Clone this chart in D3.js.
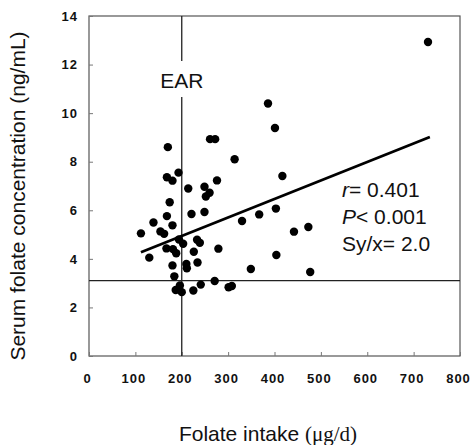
<!DOCTYPE html>
<html>
<head>
<meta charset="utf-8">
<script src="https://cdn.jsdelivr.net/npm/d3@7"></script>
<style>
  body { margin: 0; background: #fff; }
</style>
</head>
<body>
<script>
// folate intake (ug/d) and serum folate (ng/mL)
const intake = [731, 386, 401, 261, 272, 170, 314, 193, 417, 168, 180, 276, 214, 249, 260, 252,
  174, 403, 221, 249, 367, 168, 330, 139, 180, 473, 442, 112, 154, 162, 194, 233, 239, 203,
  167, 181, 188, 226, 279, 130, 404, 180, 210, 211, 234, 349, 477, 184, 196, 187, 200, 225,
  241, 271, 301, 308]
const serum = [12.93, 10.40, 9.39, 8.93, 8.93, 8.60, 8.10, 7.55, 7.41, 7.36, 7.22, 7.23, 6.90, 6.97, 6.72, 6.57,
  6.33, 6.07, 5.85, 5.93, 5.83, 5.76, 5.56, 5.50, 5.38, 5.31, 5.12, 5.05, 5.13, 5.03, 4.80, 4.79, 4.66, 4.62,
  4.43, 4.40, 4.23, 4.29, 4.42, 4.05, 4.16, 3.73, 3.79, 3.61, 3.85, 3.58, 3.46, 3.28, 2.90, 2.72, 2.63, 2.70,
  2.94, 3.09, 2.83, 2.88]
const xTicks = [0, 100, 200, 300, 400, 500, 600, 700, 800]
const yTicks = [0, 2, 4, 6, 8, 10, 12, 14]
const fitX = [112, 735]          // regression line ends
const fitY = [4.27, 9.02]
const earX = 200                 // EAR reference
const refY = 3.1                 // horizontal cut-off
const stats = ["r= 0.401", "P< 0.001", "Sy/x= 2.0"]

const width = 472, height = 445
const mLeft = 89, mRight = 460, mTop = 16, mBottom = 356

const svg = d3.select("body").append("svg")
    .attr("width", width)
    .attr("height", height)
    .attr("xmlns", "http://www.w3.org/2000/svg")

const x = d3.scaleLinear().domain([0, 800]).range([mLeft, mRight])
const y = d3.scaleLinear().domain([0, 14]).range([mBottom, mTop])

// frame
svg.append("rect")
    .attr("x", mLeft).attr("y", mTop)
    .attr("width", mRight - mLeft).attr("height", mBottom - mTop)
    .attr("fill", "none").attr("stroke", "#555").attr("stroke-width", 1.2)

// axes, ticks pointing inward
const xAxis = svg.append("g")
    .attr("transform", `translate(0,${mBottom})`)
    .call(d3.axisBottom(x).tickValues(xTicks).tickSize(-4).tickPadding(18))
const yAxis = svg.append("g")
    .attr("transform", `translate(${mLeft},0)`)
    .call(d3.axisLeft(y).tickValues(yTicks).tickSize(-4).tickPadding(11))

;[xAxis, yAxis].forEach(g => {
  g.select(".domain").remove()
  g.selectAll(".tick line").attr("stroke", "#777")
  g.selectAll(".tick text")
      .attr("fill", "#111")
      .style("font", "bold 13px 'Liberation Sans', Arial, sans-serif")
      .style("letter-spacing", "1px")
})
xAxis.selectAll(".tick text").attr("dx", -2)

// reference lines
svg.append("line")
    .attr("x1", x(earX)).attr("x2", x(earX))
    .attr("y1", mTop).attr("y2", mBottom)
    .attr("stroke", "#222").attr("stroke-width", 1.3)
svg.append("line")
    .attr("x1", mLeft).attr("x2", mRight)
    .attr("y1", y(refY)).attr("y2", y(refY))
    .attr("stroke", "#222").attr("stroke-width", 1.3)

// EAR label on a white patch over the vertical line
svg.append("rect")
    .attr("x", x(earX) - 25).attr("y", 61)
    .attr("width", 50).attr("height", 36)
    .attr("fill", "#fff")
svg.append("text")
    .attr("x", x(earX)).attr("y", 88)
    .attr("text-anchor", "middle")
    .style("font", "21px 'Liberation Sans', Arial, sans-serif")
    .attr("fill", "#111")
    .text("EAR")

// points
svg.append("g")
  .selectAll("circle")
  .data(intake.map((v, i) => [v, serum[i]]))
  .join("circle")
    .attr("cx", d => x(d[0]))
    .attr("cy", d => y(d[1]))
    .attr("r", 4.2)
    .attr("fill", "#000")

// regression line
svg.append("path")
    .datum(fitX.map((v, i) => [v, fitY[i]]))
    .attr("d", d3.line().x(d => x(d[0])).y(d => y(d[1])))
    .attr("fill", "none")
    .attr("stroke", "#000")
    .attr("stroke-width", 2.8)

// statistics
const st = svg.append("text")
    .attr("x", 342)
    .style("font", "21px 'Liberation Sans', Arial, sans-serif")
    .attr("fill", "#111")
stats.forEach((s, i) => {
  const t = st.append("tspan").attr("x", 342).attr("y", 197 + i * 27)
  const m = s.match(/^(r|P)(.*)$/)
  if (m) {
    t.append("tspan").style("font-style", "italic").text(m[1])
    t.append("tspan").text(m[2])
  } else {
    t.text(s)
  }
})

// axis titles
svg.append("text")
    .attr("transform", `translate(25,${(mTop + mBottom) / 2 + 10}) rotate(-90)`)
    .attr("text-anchor", "middle")
    .style("font", "21px 'Liberation Sans', Arial, sans-serif")
    .attr("fill", "#111")
    .text("Serum folate concentration (ng/mL)")

const xt = svg.append("text")
    .attr("x", 268).attr("y", 441)
    .attr("text-anchor", "middle")
    .style("font", "21px 'Liberation Sans', Arial, sans-serif")
    .attr("fill", "#111")
xt.append("tspan").text("Folate intake ")
xt.append("tspan").style("font-family", "'Liberation Serif', 'Times New Roman', serif").text("(μg/d)")
</script>
</body>
</html>
